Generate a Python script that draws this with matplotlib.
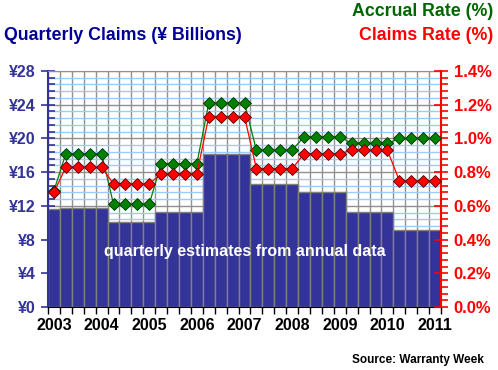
import matplotlib.pyplot as plt
import numpy as np
from matplotlib.ticker import MultipleLocator, FixedLocator

plt.rcParams['font.family'] = ['Liberation Sans', 'DejaVu Sans']
plt.rcParams['font.weight'] = 'bold'

# quarterly data, 2003 Q1 .. 2011 Q1
claims = [11.6, 11.7, 11.7, 11.7, 11.7,
          10.05, 10.05, 10.05, 10.05,
          11.3, 11.3, 11.3, 11.3,
          18.1, 18.1, 18.1, 18.1,
          14.55, 14.55, 14.55, 14.55,
          13.6, 13.6, 13.6, 13.6,
          11.3, 11.3, 11.3, 11.3,
          9.1, 9.1, 9.1, 9.1]
accrual_rate = [0.69, 0.91, 0.91, 0.91, 0.91,
                0.61, 0.61, 0.61, 0.61,
                0.85, 0.85, 0.85, 0.85,
                1.21, 1.21, 1.21, 1.21,
                0.93, 0.93, 0.93, 0.93,
                1.01, 1.01, 1.01, 1.01,
                0.97, 0.97, 0.97, 0.97,
                1.0, 1.0, 1.0, 1.0]
claims_rate = [0.68, 0.83, 0.83, 0.83, 0.83,
               0.73, 0.73, 0.73, 0.73,
               0.79, 0.79, 0.79, 0.79,
               1.13, 1.13, 1.13, 1.13,
               0.82, 0.82, 0.82, 0.82,
               0.91, 0.91, 0.91, 0.91,
               0.93, 0.93, 0.93, 0.93,
               0.75, 0.75, 0.75, 0.75]
year_labels = ['2003', '2004', '2005', '2006', '2007', '2008', '2009', '2010', '2011']

navy = '#333399'
x = np.arange(len(claims))

fig = plt.figure(figsize=(4.98, 3.7), dpi=100)
ax = fig.add_axes([48/498, 63/370, 393/498, 236/370])

ax.bar(x, claims, width=1.0, color=navy, edgecolor='#808080', linewidth=1, zorder=2)
ax.set_xlim(-0.5, len(claims) - 0.5)
ax.set_ylim(0, 28)

# grid
ax.yaxis.set_major_locator(MultipleLocator(4))
ax.yaxis.set_minor_locator(MultipleLocator(0.8))
ax.grid(which='minor', axis='y', color='#99ccff', linewidth=1, zorder=0)
ax.grid(which='major', axis='y', color='#909090', linewidth=1, zorder=0)
ax.xaxis.set_major_locator(FixedLocator(np.arange(-0.5, len(claims), 1)))
ax.grid(which='major', axis='x', color='#909090', linewidth=1, zorder=0)
ax.xaxis.set_minor_locator(FixedLocator(x[::4]))
ax.set_xticklabels([], minor=False)
ax.set_xticklabels(year_labels, minor=True)
ax.tick_params(axis='x', which='major', direction='out', length=5, width=1, color='black')
ax.tick_params(axis='x', which='minor', length=0, pad=8, labelsize=11.5, labelcolor='black')
ax.set_axisbelow(True)

ax.set_yticklabels([f'¥{int(v)}' for v in ax.get_yticks()])
ax.tick_params(axis='y', which='major', direction='inout', length=10, width=1.2, color=navy,
               labelcolor=navy, labelsize=11.5, pad=4)
ax.tick_params(axis='y', which='minor', direction='in', length=5, width=1.2, color=navy)

ax.spines['left'].set_color(navy)
ax.spines['left'].set_linewidth(1.5)
ax.spines['bottom'].set_color('black')
ax.spines['top'].set_color('#909090')
ax.spines['right'].set_visible(False)

ax2 = ax.twinx()
ax2.set_ylim(0, 1.4)
ax2.plot(x, accrual_rate, color='#008000', linewidth=0.9, marker='D', markersize=6,
         markerfacecolor='#008000', markeredgecolor='#003300', markeredgewidth=0.6, zorder=3)
ax2.plot(x, claims_rate, color='#ff0000', linewidth=0.9, marker='D', markersize=6,
         markerfacecolor='#ff0000', markeredgecolor='#550000', markeredgewidth=0.6, zorder=3)
ax2.yaxis.set_major_locator(MultipleLocator(0.2))
ax2.yaxis.set_minor_locator(MultipleLocator(0.04))
ax2.set_yticklabels([f'{v:.1f}%' for v in ax2.get_yticks()])
ax2.tick_params(axis='y', which='major', direction='inout', length=10, width=1.2, color='red',
                labelcolor='red', labelsize=12, pad=4)
ax2.tick_params(axis='y', which='minor', direction='out', length=5, width=1.2, color='red')
ax2.spines['right'].set_color('red')
ax2.spines['right'].set_linewidth(1.5)
for s in ['left', 'top', 'bottom']:
    ax2.spines[s].set_visible(False)

ax.text(16, 6.6, 'quarterly estimates from annual data', color='white', ha='center',
        va='center', fontsize=11.5, fontweight='bold', zorder=5)

fig.text(4/498, 1 - 35/370, 'Quarterly Claims (¥ Billions)', color='#000099', fontsize=12.8,
         fontweight='bold', ha='left', va='center')
fig.text(493/498, 1 - 12/370, 'Accrual Rate (%)', color='#006600', fontsize=12.8,
         fontweight='bold', ha='right', va='center')
fig.text(493/498, 1 - 35/370, 'Claims Rate (%)', color='#ff0000', fontsize=12.8,
         fontweight='bold', ha='right', va='center')
fig.text(484/498, 1 - 360/370, 'Source: Warranty Week', color='black', fontsize=8.5,
         fontweight='bold', ha='right', va='center')

fig.savefig('out.png', dpi=100)
